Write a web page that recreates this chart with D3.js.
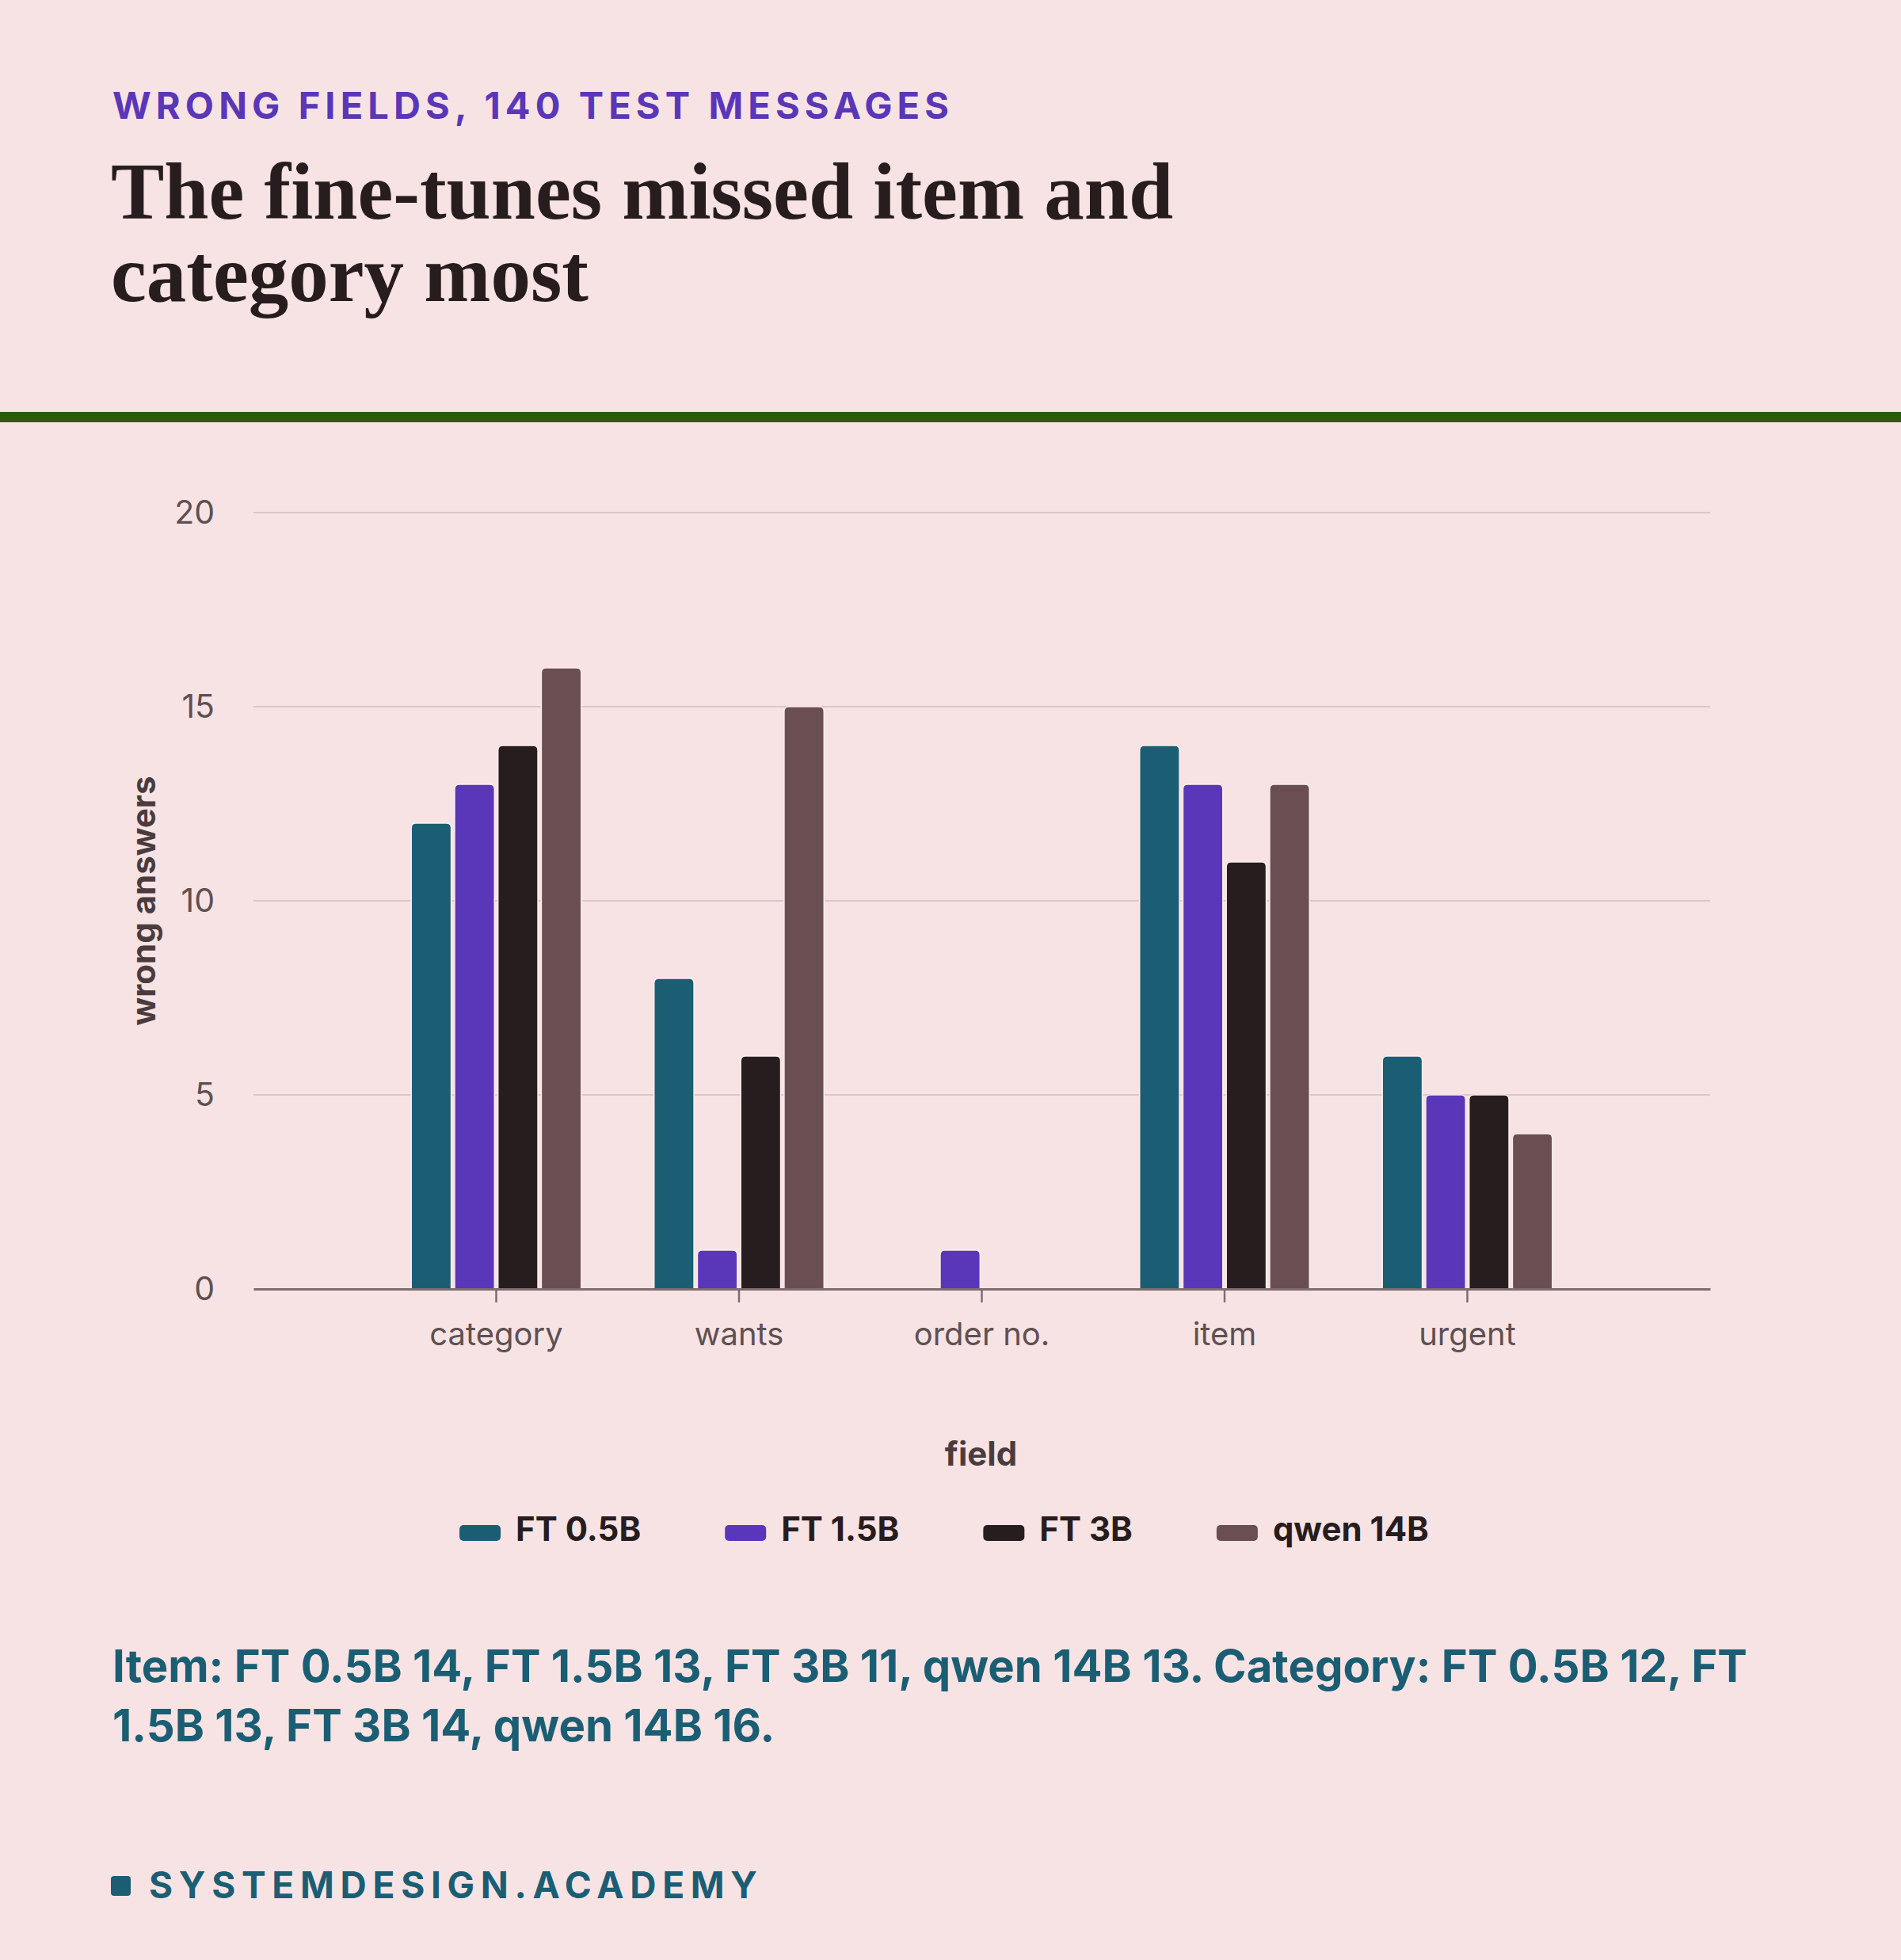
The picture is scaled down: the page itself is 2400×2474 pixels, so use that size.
<!DOCTYPE html>
<html>
<head>
<meta charset="utf-8">
<script src="https://cdn.jsdelivr.net/npm/d3@7"></script>
<style>
  html, body { margin: 0; padding: 0; background: #f8e3e4; }
  svg { display: block; }
</style>
</head>
<body>
<div id="chart"></div>
<script>
// data
var fields = ["category", "wants", "order no.", "item", "urgent"];
var models = ["FT 0.5B", "FT 1.5B", "FT 3B", "qwen 14B"];
var ft05 = [12, 8, 0, 14, 6];
var ft15 = [13, 1, 1, 13, 5];
var ft3 = [14, 6, 0, 11, 5];
var qwen14 = [16, 15, 0, 13, 4];
var yTicks = [0, 5, 10, 15, 20];
var colors = ["#1b5e74", "#5a36b8", "#271d1e", "#6a4e51"];

var kicker = "WRONG FIELDS, 140 TEST MESSAGES";
var titleLines = ["The fine-tunes missed item and", "category most"];
var noteLines = [
  "Item: FT 0.5B 14, FT 1.5B 13, FT 3B 11, qwen 14B 13. Category: FT 0.5B 12, FT",
  "1.5B 13, FT 3B 14, qwen 14B 16."
];
var footer = "SYSTEMDESIGN.ACADEMY";

var seriesValues = [ft05, ft15, ft3, qwen14];

var svgWidth = 2400, svgHeight = 2474;
var sans = "Inter, 'Noto Sans', sans-serif";

var svg = d3.select("#chart").append("svg")
  .attr("width", svgWidth)
  .attr("height", svgHeight);

svg.append("rect").attr("width", svgWidth).attr("height", svgHeight).attr("fill", "#f8e3e4");

// header
svg.append("text")
  .attr("x", 142).attr("y", 150)
  .attr("font-family", sans).attr("font-weight", 700)
  .attr("font-size", 47).attr("letter-spacing", 6.1)
  .attr("fill", "#5a36b8")
  .text(kicker);

svg.append("g").selectAll("text")
  .data(titleLines).enter().append("text")
  .attr("x", 140)
  .attr("y", (d, i) => 276 + i * 104)
  .attr("font-family", "'Liberation Serif', 'DejaVu Serif', serif")
  .attr("font-weight", 700)
  .attr("font-size", 101)
  .attr("fill", "#271d1e")
  .text(d => d);

svg.append("rect")
  .attr("x", 0).attr("y", 520).attr("width", svgWidth).attr("height", 13)
  .attr("fill", "#2d5a13");

// chart area
var margin = { top: 647, left: 320 };
var width = 2159 - 320;
var height = 1627 - 647;

var chartGroup = svg.append("g")
  .attr("transform", `translate(${margin.left}, ${margin.top})`);

var x0 = d3.scaleBand()
  .domain(fields)
  .range([0, width])
  .paddingInner(0.3)
  .paddingOuter(0.65);

var x1 = d3.scaleBand()
  .domain(models)
  .range([0, x0.bandwidth()])
  .paddingInner(0.08);

var y = d3.scaleLinear()
  .domain([0, 20])
  .range([height, 0]);

// gridlines
chartGroup.append("g")
  .selectAll("line")
  .data(yTicks.filter(d => d > 0))
  .enter().append("line")
  .attr("x1", 0).attr("x2", width)
  .attr("y1", d => y(d)).attr("y2", d => y(d))
  .attr("stroke", "#dcc6ca").attr("stroke-width", 2);

// y axis labels
var leftAxis = d3.axisLeft(y).tickValues(yTicks).tickSize(0).tickPadding(49);
var yAxisG = chartGroup.append("g").call(leftAxis);
yAxisG.select(".domain").remove();
yAxisG.selectAll("text")
  .attr("font-family", sans).attr("font-size", 41)
  .attr("fill", "#5e5052");

// bars with rounded tops
function barPath(x, yTop, w, h, r) {
  r = Math.min(r, h / 2, w / 2);
  if (h <= 0) return "";
  return `M${x},${yTop + h}` +
    `V${yTop + r}` +
    `Q${x},${yTop} ${x + r},${yTop}` +
    `H${x + w - r}` +
    `Q${x + w},${yTop} ${x + w},${yTop + r}` +
    `V${yTop + h}Z`;
}

var rows = fields.map((f, i) => ({
  field: f,
  values: models.map((m, j) => ({ model: m, idx: j, value: seriesValues[j][i] }))
}));

var groups = chartGroup.append("g").selectAll("g")
  .data(rows).enter().append("g")
  .attr("transform", d => `translate(${x0(d.field)}, 0)`);

groups.selectAll("path")
  .data(d => d.values.filter(v => v.value > 0))
  .enter().append("path")
  .attr("d", d => barPath(x1(d.model), y(d.value), x1.bandwidth(), height - y(d.value), 6))
  .attr("fill", d => colors[d.idx])
  .attr("stroke", "#fbeeee").attr("stroke-width", 1.5);

// x axis
var bottomAxis = d3.axisBottom(x0).tickSize(17).tickPadding(26).tickSizeOuter(0);
var xAxisG = chartGroup.append("g")
  .attr("transform", `translate(0, ${height})`)
  .call(bottomAxis);
xAxisG.select(".domain").attr("stroke", "#7d6d70").attr("stroke-width", 3);
xAxisG.selectAll(".tick line").attr("stroke", "#7d6d70").attr("stroke-width", 2.5);
xAxisG.selectAll(".tick text")
  .attr("font-family", sans).attr("font-size", 40)
  .attr("fill", "#5e5052");

// axis titles
chartGroup.append("text")
  .attr("transform", `translate(${181 - margin.left}, ${height / 2}) rotate(-90)`)
  .attr("text-anchor", "middle")
  .attr("dy", "0.35em")
  .attr("font-family", sans).attr("font-weight", 700)
  .attr("font-size", 42).attr("fill", "#4a3c3e")
  .text("wrong answers");

chartGroup.append("text")
  .attr("x", width / 2 - 1)
  .attr("y", 1850 - margin.top)
  .attr("text-anchor", "middle")
  .attr("font-family", sans).attr("font-weight", 700)
  .attr("font-size", 42).attr("fill", "#4a3c3e")
  .text("field");

// legend
var legend = svg.append("g");
var items = legend.selectAll("g")
  .data(models).enter().append("g");
items.append("rect")
  .attr("width", 52).attr("height", 20).attr("rx", 5)
  .attr("y", -20)
  .attr("fill", (d, i) => colors[i]);
items.append("text")
  .attr("x", 71)
  .attr("font-family", sans).attr("font-weight", 700)
  .attr("font-size", 42).attr("fill", "#271d1e")
  .text(d => d);

var legendGap = 106;
var offsets = [];
var cursor = 0;
items.each(function (d, i) {
  offsets.push(cursor);
  cursor += this.getBBox().width + legendGap;
});
var legendWidth = cursor - legendGap;
var legendStart = 1192 - legendWidth / 2;
items.attr("transform", (d, i) => `translate(${legendStart + offsets[i]}, 1945)`);

// note
svg.append("g").selectAll("text")
  .data(noteLines).enter().append("text")
  .attr("x", 142)
  .attr("y", (d, i) => 2123 + i * 75)
  .attr("font-family", sans).attr("font-weight", 700)
  .attr("font-size", 56.3).attr("fill", "#1b5e74")
  .text(d => d);

// footer
svg.append("rect")
  .attr("x", 140).attr("y", 2368).attr("width", 25).attr("height", 25).attr("rx", 4)
  .attr("fill", "#1b5e74");
svg.append("text")
  .attr("x", 188).attr("y", 2396)
  .attr("font-family", sans).attr("font-weight", 700)
  .attr("font-size", 46).attr("letter-spacing", 7.7)
  .attr("fill", "#1b5e74")
  .text(footer);
</script>
</body>
</html>
